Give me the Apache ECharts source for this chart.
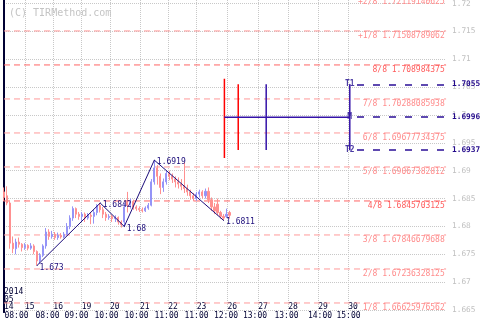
<!DOCTYPE html>
<html><head><meta charset="utf-8">
<script src="https://cdn.jsdelivr.net/npm/echarts@6/dist/echarts.min.js"></script>
<style>html,body{margin:0;padding:0;background:#fff}#c{width:480px;height:320px}</style>
</head><body><div id="c"></div>
<script>
// ---- price bars (bar index, OHLC) ----
const opens  = [1.6862,1.6855,1.6842,1.6770,1.6760,1.6772,1.6768,1.6762,1.6766,1.6761,1.6765,1.6755,1.6738,1.6748,1.6765,1.6790,1.6782,1.6786,1.6780,1.6784,1.6781,1.6786,1.6800,1.6815,1.6832,1.6822,1.6818,1.6822,1.6815,1.6820,1.6818,1.6825,1.6838,1.6830,1.6822,1.6816,1.6818,1.6814,1.6816,1.6808,1.6808,1.6845,1.6838,1.6845,1.6835,1.6832,1.6830,1.6828,1.6833,1.6838,1.6880,1.6905,1.6890,1.6870,1.6880,1.6895,1.6890,1.6885,1.6880,1.6876,1.6872,1.6868,1.6862,1.6855,1.6850,1.6858,1.6862,1.6855,1.6863,1.6848,1.6835,1.6840,1.6825,1.6818,1.6818,1.6825];
const closes = [1.6852,1.6842,1.6770,1.6760,1.6772,1.6768,1.6762,1.6766,1.6761,1.6765,1.6755,1.6738,1.6748,1.6765,1.6790,1.6782,1.6786,1.6780,1.6784,1.6781,1.6786,1.6800,1.6815,1.6832,1.6822,1.6818,1.6822,1.6815,1.6820,1.6818,1.6825,1.6838,1.6830,1.6822,1.6816,1.6818,1.6814,1.6816,1.6808,1.6803,1.6835,1.6838,1.6845,1.6835,1.6832,1.6830,1.6828,1.6833,1.6838,1.6880,1.6905,1.6890,1.6870,1.6880,1.6895,1.6890,1.6885,1.6880,1.6876,1.6872,1.6868,1.6862,1.6855,1.6850,1.6858,1.6862,1.6855,1.6863,1.6848,1.6835,1.6828,1.6825,1.6818,1.6815,1.6822,1.6820];
const lows   = [1.6845,1.6838,1.6760,1.6752,1.6750,1.6762,1.6755,1.6758,1.6757,1.6758,1.6750,1.6730,1.6733,1.6745,1.6760,1.6776,1.6778,1.6776,1.6776,1.6778,1.6779,1.6784,1.6795,1.6810,1.6815,1.6812,1.6810,1.6808,1.6812,1.6804,1.6805,1.6820,1.6825,1.6815,1.6810,1.6812,1.6808,1.6808,1.6803,1.6798,1.6800,1.6825,1.6832,1.6830,1.6828,1.6826,1.6825,1.6826,1.6830,1.6836,1.6875,1.6875,1.6858,1.6862,1.6875,1.6883,1.6878,1.6870,1.6868,1.6865,1.6860,1.6855,1.6848,1.6845,1.6846,1.6852,1.6850,1.6850,1.6842,1.6828,1.6822,1.6820,1.6814,1.6811,1.6815,1.6814];
const highs  = [1.6870,1.6872,1.6845,1.6782,1.6778,1.6780,1.6770,1.6770,1.6768,1.6770,1.6768,1.6757,1.6752,1.6768,1.6797,1.6795,1.6792,1.6790,1.6789,1.6788,1.6790,1.6806,1.6820,1.6836,1.6834,1.6826,1.6826,1.6825,1.6824,1.6825,1.6830,1.6840,1.6842,1.6835,1.6826,1.6822,1.6821,1.6820,1.6818,1.6811,1.6842,1.6862,1.6850,1.6848,1.6838,1.6836,1.6834,1.6836,1.6842,1.6885,1.6919,1.6910,1.6895,1.6886,1.6900,1.6900,1.6895,1.6890,1.6888,1.6885,1.6915,1.6875,1.6866,1.6860,1.6862,1.6866,1.6865,1.6868,1.6870,1.6852,1.6842,1.6850,1.6828,1.6822,1.6832,1.6828];

// ---- zigzag swing points ----
const zzIndex = [11, 32, 40, 50, 73];
const zzValue = [1.673, 1.6842, 1.68, 1.6919, 1.6811];

// ---- Murray math levels ----
const murrayNames  = ['+2/8','+1/8','8/8','7/8','6/8','5/8','4/8','3/8','2/8','1/8'];
const murrayValues = [1.72119140625,1.71508789062,1.708984375,1.70288085938,1.69677734375,1.69067382812,1.6845703125,1.67846679688,1.67236328125,1.66625976562];
const murrayStrong = ['8/8', '4/8'];

// ---- forecast ----
const redTimes = [73.3, 77.9];
const redHigh  = [1.7065, 1.7055];
const redLow   = [1.6923, 1.6937];
const blueTimes = [87.2];
const targetTime = 115;
const targetNames  = ['T1', 'M', 'T2'];
const targetValues = [1.7055, 1.6996, 1.6937];
const targetLabels = ['1.7055', '1.6996', '1.6937'];
const dashStart = 117.4;

// ---- axes ----
const yTicks = [1.665,1.67,1.675,1.68,1.685,1.69,1.695,1.7,1.705,1.71,1.715,1.72];
const dateTicks  = [0, 6.98, 16.4, 25.84, 35.25, 45.23, 54.64, 64.08, 74.33, 84.57, 94.55, 104.52, 114.5];
const dateLabels = ['2014\n05\n14','15','16','19','20','21','22','23','26','27','28','29','30'];
const timeTicks  = [4.16, 14.47, 24.11, 34.09, 44.06, 54.04, 64.02, 73.83, 83.47, 93.95, 105.09, 114.57];
const timeLabels = ['08:00','08:00','09:00','10:00','10:00','11:00','11:00','12:00','13:00','13:00','14:00','15:00'];

const X_MIN = 0, X_MAX = 147, Y_MIN = 1.66464, Y_MAX = 1.72136;
const MONO = 'DejaVu Sans Mono';
const lookup = (ticks, labels) => v => { for (let i = 0; i < ticks.length; i++) if (Math.abs(ticks[i] - v) < 1e-6) return labels[i]; return ''; };

const candles = opens.map((o, i) => [i, o, closes[i], lows[i], highs[i]]);
const zz = zzIndex.map((t, i) => [t, zzValue[i]]);

const series = [];
murrayValues.forEach((v, i) => {
  const strong = murrayStrong.includes(murrayNames[i]);
  const col = strong ? '#ff6464' : '#ff9a9a';
  series.push({
    type: 'line', clip: false, silent: true, z: 1, symbol: 'circle', symbolSize: 0.5, showSymbol: true,
    lineStyle: { color: col, type: [6, 4], width: 1 }, itemStyle: { color: col },
    data: [
      [X_MIN, v],
      { value: [X_MAX, v],
        label: { show: true, position: [-1, 1.5], align: 'right', verticalAlign: 'top',
                 formatter: murrayNames[i] + ' ' + v,
                 color: strong ? '#ff5c5c' : '#ff8c8c', fontFamily: MONO, fontSize: 8 } }
    ]
  });
});
series.push({
  type: 'candlestick', data: candles, barWidth: 1.6,
  encode: { x: 0, y: [1, 2, 3, 4] },
  itemStyle: { color: '#9494f7', color0: '#ff9090', borderColor: '#9494f7', borderColor0: '#ff9090', borderWidth: 1 }
});
series.push({
  type: 'line', data: zz, symbol: 'circle', symbolSize: 1, showSymbol: true, z: 4,
  lineStyle: { color: '#1c0c7a', width: 1 }, itemStyle: { color: '#1c0c7a' },
  label: { show: true, position: 'right', distance: 2, offset: [0, 2], formatter: p => String(p.value[1]),
           color: '#1c0c7a', fontFamily: MONO, fontSize: 8 }
});
redTimes.forEach((t, i) => series.push({
  type: 'line', data: [[t, redHigh[i]], [t, redLow[i]]], symbol: 'none',
  lineStyle: { color: '#ff0000', width: 1.5 }
}));
blueTimes.forEach(t => series.push({
  type: 'line', data: [[t, targetValues[0]], [t, targetValues[2]]], symbol: 'none',
  lineStyle: { color: '#3412a8', width: 1.5 }
}));
series.push({
  type: 'line', data: [[redTimes[0], targetValues[1]], [targetTime, targetValues[1]]], symbol: 'none',
  lineStyle: { color: '#3412a8', width: 1.5 }
});
series.push({
  type: 'line', data: [[targetTime, targetValues[0]], [targetTime, targetValues[2]]], symbol: 'none',
  lineStyle: { color: '#3412a8', width: 1.5 }
});
series.push({
  type: 'scatter', data: targetValues.map((v, i) => ({ value: [targetTime, v], name: targetNames[i] })),
  symbol: 'circle', symbolSize: 1, itemStyle: { color: '#3412a8' },
  label: { show: true, position: 'inside', formatter: p => p.name, color: '#1e0a8c', fontFamily: MONO, fontSize: 8, fontWeight: 'bold' },
  markLine: {
    silent: true, symbol: ['none', 'none'], animation: false, precision: 12,
    lineStyle: { color: '#2a0e96', type: [7, 9], width: 1.5 },
    label: { show: true, position: 'end', distance: 6, color: '#22088a', fontFamily: MONO, fontSize: 7.8, fontWeight: 'bold' },
    data: targetValues.map((v, i) => [
      { coord: [dashStart, v], label: { formatter: targetLabels[i] } },
      { coord: [X_MAX, v] }
    ])
  }
});

const chart = echarts.init(document.getElementById('c'), null, { renderer: 'canvas' });
chart.setOption({
  animation: false,
  backgroundColor: '#ffffff',
  title: { text: '(C) TIRMethod.com', left: 4, top: 3,
           textStyle: { color: '#c4c4c4', fontFamily: MONO, fontSize: 10, fontWeight: 'normal' } },
  grid: { left: 4, right: 34, top: -4, bottom: 8, outerBoundsMode: 'none', containLabel: false },
  xAxis: [
    { type: 'value', position: 'bottom', min: X_MIN, max: X_MAX,
      axisLine: { show: false }, axisTick: { show: false, customValues: dateTicks },
      splitLine: { show: true, lineStyle: { color: '#c8c8c8', type: 'dotted', width: 1 } },
      axisLabel: { customValues: dateTicks, inside: true, margin: 1, align: 'left', verticalAlign: 'bottom',
                   lineHeight: 7.5, showMinLabel: true, showMaxLabel: true,
                   formatter: lookup(dateTicks, dateLabels), color: '#000033', fontFamily: MONO, fontSize: 8 } },
    { type: 'value', position: 'bottom', min: X_MIN, max: X_MAX,
      axisLine: { show: false }, axisTick: { show: false, customValues: timeTicks }, splitLine: { show: false },
      axisLabel: { customValues: timeTicks, margin: 0, align: 'center', verticalAlign: 'top',
                   showMinLabel: true, showMaxLabel: true,
                   formatter: lookup(timeTicks, timeLabels), color: '#000033', fontFamily: MONO, fontSize: 8 } }
  ],
  yAxis: [
    { type: 'value', position: 'right', min: Y_MIN, max: Y_MAX, scale: true,
      axisLine: { show: true, lineStyle: { color: '#000033', width: 2 } },
      axisTick: { show: false, customValues: yTicks },
      splitLine: { show: true, lineStyle: { color: '#c8c8c8', type: 'dotted', width: 1 } },
      axisLabel: { customValues: yTicks, margin: 6, showMinLabel: true, showMaxLabel: true,
                   formatter: v => String(+(+v).toFixed(4)), color: '#c0c0c0', fontFamily: MONO, fontSize: 7.8 } },
    { type: 'value', position: 'left', min: Y_MIN, max: Y_MAX, scale: true,
      axisLine: { show: true, lineStyle: { color: '#000033', width: 2 } },
      axisTick: { show: false }, splitLine: { show: false }, axisLabel: { show: false } }
  ],
  series: series
});
</script></body></html>
